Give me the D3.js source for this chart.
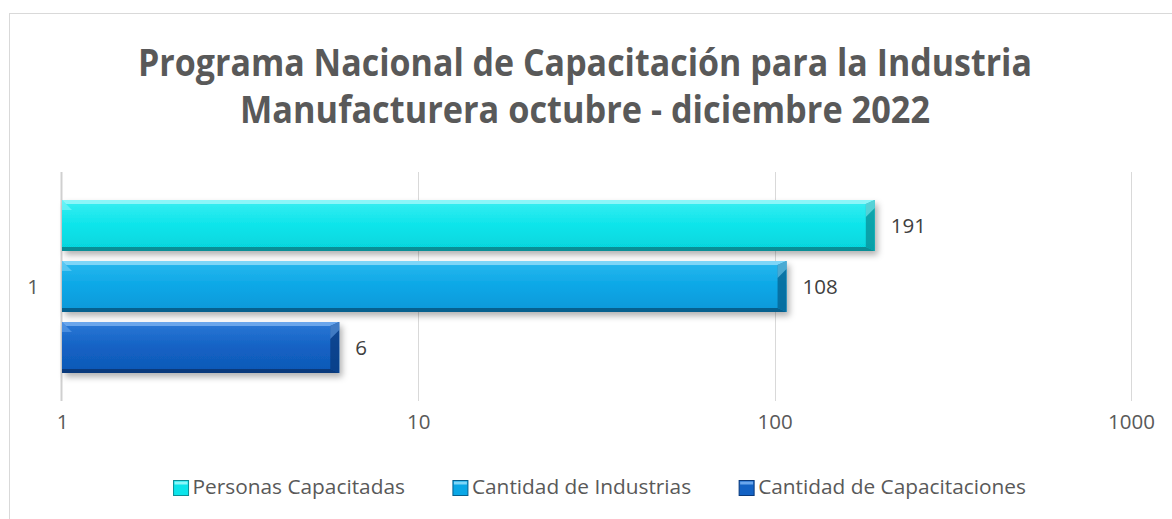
<!DOCTYPE html>
<html><head><meta charset="utf-8">
<script src="https://cdn.jsdelivr.net/npm/d3@7"></script>
<style>body{margin:0;background:#fff}svg{display:block}</style>
</head><body>
<script>
const categories = ["1"];
const series = ["Personas Capacitadas", "Cantidad de Industrias", "Cantidad de Capacitaciones"];
const values = [191, 108, 6];
const tickValues = [1, 10, 100, 1000];
const titleLines = ["Programa Nacional de Capacitación para la Industria", "Manufacturera octubre - diciembre 2022"];
const palette = [
  {base:"#0ce4ea", top:"#8cf6f9", hi:"#3aeef2", lo:"#05d4dc", dark:"#0a8e96"},
  {base:"#0aa7e6", top:"#7fd6f8", hi:"#2bb8ee", lo:"#0898d8", dark:"#06608e"},
  {base:"#1362c4", top:"#6aa6ec", hi:"#2b78d6", lo:"#0f58b6", dark:"#0a3a7c"}
];

const W = 1172, H = 519;
const svg = d3.select("body").append("svg").attr("width", W).attr("height", H);
const defs = svg.append("defs");
const f = defs.append("filter").attr("id","sh").attr("x","-5%").attr("y","-30%").attr("width","115%").attr("height","170%");
f.append("feDropShadow").attr("dx",3).attr("dy",4).attr("stdDeviation",3).attr("flood-color","#000").attr("flood-opacity",0.3);

palette.forEach((p,i)=>{
  const g = defs.append("linearGradient").attr("id","g"+i).attr("x1",0).attr("y1",0).attr("x2",0).attr("y2",1);
  g.append("stop").attr("offset","0%").attr("stop-color",p.hi);
  g.append("stop").attr("offset","50%").attr("stop-color",p.base);
  g.append("stop").attr("offset","100%").attr("stop-color",p.lo);
});

// chart border
svg.append("rect").attr("x",9.5).attr("y",13.5).attr("width",1180).attr("height",520)
  .attr("fill","#fff").attr("stroke","#d9d9d9").attr("stroke-width",1);

const plot = {left:62, right:1131, top:172, bottom:401};
const x = d3.scaleLog().domain([1,1000]).range([plot.left, plot.right]);
const yCat = d3.scaleBand().domain(categories).range([plot.top, plot.bottom]);
const y = d3.scaleBand().domain(series).range([200, 373]).paddingInner(0.164).paddingOuter(0);

// gridlines
svg.append("g").selectAll("line").data(tickValues.slice(1)).join("line")
  .attr("x1",d=>Math.round(x(d))+0.5).attr("x2",d=>Math.round(x(d))+0.5)
  .attr("y1",plot.top).attr("y2",plot.bottom).attr("stroke","#d9d9d9").attr("stroke-width",1);
// left axis line
svg.append("line").attr("x1",plot.left-0.5).attr("x2",plot.left-0.5).attr("y1",plot.top).attr("y2",plot.bottom)
  .attr("stroke","#d0d0d0").attr("stroke-width",2);

const font = "'Open Sans', 'DejaVu Sans', sans-serif";
const gray = "#595959";

// x axis via d3.axisBottom
const xAxis = d3.axisBottom(x).tickValues(tickValues).tickFormat(d3.format("d")).tickSize(0).tickPadding(0);
const ax = svg.append("g").attr("transform",`translate(0,${plot.bottom+24})`).call(xAxis);
ax.select(".domain").remove();
ax.selectAll("text").attr("font-family",font).attr("font-size",20.5).attr("fill",gray).attr("dy","0.2em");

// y axis category
const yAxis = d3.axisLeft(yCat).tickSize(0).tickPadding(0);
const ay = svg.append("g").attr("transform",`translate(39,0)`).call(yAxis);
ay.select(".domain").remove();
ay.selectAll("text").attr("font-family",font).attr("font-size",20.5).attr("fill",gray).attr("dy","0.35em");

// bars
const bars = svg.append("g");
series.forEach((s,i)=>{
  const p = palette[i];
  const x0 = x(1), x1 = x(values[i]), y0 = y(s), y1 = y(s)+y.bandwidth();
  const g = bars.append("g");
  g.append("rect").attr("x",x0).attr("y",y0).attr("width",x1-x0).attr("height",y1-y0)
    .attr("fill","url(#g"+i+")").attr("filter","url(#sh)");
  const b = 4, br = 9;
  g.append("polygon").attr("points",[[x0,y0],[x1,y0],[x1-br,y0+b],[x0+b,y0+b]].join(" ")).attr("fill",p.top);
  g.append("polygon").attr("points",[[x0,y0],[x0+b+6,y0+b+6],[x0,y0+b+6]].join(" ")).attr("fill",p.top).attr("opacity",0.55);
  g.append("polygon").attr("points",[[x0,y1],[x1,y1],[x1-br,y1-b],[x0,y1-b]].join(" ")).attr("fill",p.dark);
  g.append("polygon").attr("points",[[x1,y0],[x1,y1],[x1-br,y1-b],[x1-br,y0+b]].join(" ")).attr("fill",p.dark).attr("opacity",0.75);
  g.append("polygon").attr("points",[[x1,y0],[x1-br,y0+b],[x1-br,y0+b+br+4],[x1,y0+8]].join(" ")).attr("fill",p.top).attr("opacity",0.55);
  svg.append("text").attr("x",x1+16).attr("y",(y0+y1)/2).attr("dy","0.35em")
    .attr("font-family",font).attr("font-size",20.5).attr("fill","#404040").text(values[i]);
});

// title
const tl = [[titleLines[0], 76, 894], [titleLines[1], 123, 690]];
tl.forEach(([txt, yy, len])=>{
  svg.append("text").attr("x",585).attr("y",yy).attr("text-anchor","middle")
    .attr("font-family",font).attr("font-weight","bold").attr("font-size",38).attr("fill",gray)
    .attr("textLength",len).attr("lengthAdjust","spacingAndGlyphs").text(txt);
});

// legend
const leg = svg.append("g");
const legText = series.map((s,i)=>leg.append("text").attr("y",487).attr("dy","0.35em")
  .attr("font-family",font).attr("font-size",18).attr("fill",gray).text(s));
const w3 = legText[2].node().getComputedTextLength();
const lfs = 18*268/w3;
legText.forEach(t=>t.attr("font-size",lfs));
const widths = legText.map(t=>t.node().getComputedTextLength());
const mk = 15, gapM = 4, gapItem = 48;
const total = d3.sum(widths) + series.length*(mk+gapM) + gapItem*(series.length-1);
let cx = 1026 - total;
series.forEach((s,i)=>{
  const p = palette[i];
  leg.append("rect").attr("x",cx).attr("y",487-mk/2+1).attr("width",mk).attr("height",mk)
    .attr("fill",p.base).attr("stroke",p.dark).attr("stroke-width",1);
  leg.append("rect").attr("x",cx+1).attr("y",487-mk/2+2).attr("width",mk-2).attr("height",3).attr("fill",p.top);
  legText[i].attr("x",cx+mk+gapM);
  cx += mk + gapM + widths[i] + gapItem;
});
</script>
</body></html>
